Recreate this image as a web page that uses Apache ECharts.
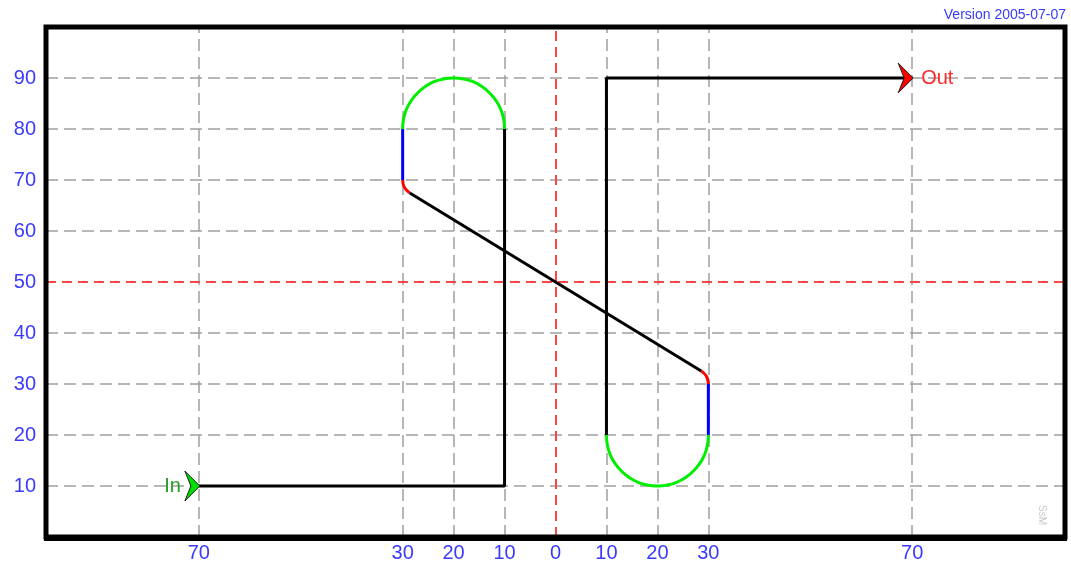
<!DOCTYPE html>
<html>
<head>
<meta charset="utf-8">
<script src="https://cdn.jsdelivr.net/npm/echarts@6/dist/echarts.min.js"></script>
<style>
html,body{margin:0;padding:0;background:#fff;}
#chart{width:1071px;height:564px;}
</style>
</head>
<body>
<div id="chart"></div>
<script>
// ---- data ----
const xTickValues = [-70, -30, -20, -10, 0, 10, 20, 30, 70];
const xTickLabels = ['70', '30', '20', '10', '0', '10', '20', '30', '70'];
const yTickValues = [10, 20, 30, 40, 50, 60, 70, 80, 90];
const yTickLabels = ['10', '20', '30', '40', '50', '60', '70', '80', '90'];
const gridXGray = [-70, -30, -20, -10, 10, 20, 30, 70];
const gridYGray = [10, 20, 30, 40, 60, 70, 80, 90];
const gridXRed = [0];
const gridYRed = [50];
const blackPathIn = [[-70, 10], [-10, 10], [-10, 80]];
const blackDiagonal = [[-28.6, 67.45], [28.6, 32.55]];
const blackPathOut = [[10, 20], [10, 90], [70, 90]];
const blueSegA = [[-30, 80], [-30, 70]];
const blueSegB = [[30, 30], [30, 20]];
// cx, cy, radius, start angle (deg), end angle (deg)
const greenArcs = [[-20, 80, 10, 0, 180], [20, 20, 10, 180, 360]];
const redArcs = [[-27, 70, 3, 180, 238], [27, 30, 3, 0, 58]];
const endPoints = [[-70, 10], [70, 90]];
const endNames = ['In', 'Out'];

// ---- styles ----
const BLUE = '#3a3aff';
const RED = '#ff2a2a';
const FONT = '"Liberation Sans", Arial';
const chart = echarts.init(document.getElementById('chart'), null, {renderer: 'canvas'});

const G = {left: 46, top: 27, right: 6, bottom: 27};
const GW = 1071 - G.left - G.right, GH = 564 - G.top - G.bottom;

function arcRenderer(color) {
  return function (params, api) {
    const c = api.coord([api.value(0), api.value(1)]);
    const s = api.size([api.value(2), api.value(2)]);
    const r = (s[0] + s[1]) / 2;
    const a1 = api.value(3) * Math.PI / 180, a2 = api.value(4) * Math.PI / 180;
    return {
      type: 'arc',
      shape: {cx: c[0], cy: c[1], r: r, startAngle: -a2, endAngle: -a1, clockwise: true},
      style: {stroke: color, fill: null, lineWidth: 3}
    };
  };
}

const arrowColors = ['#00dd00', '#ff0000'];
const textColors = ['#22a022', '#ff2a2a'];

function arrowRenderer(params, api) {
  const i = params.dataIndex;
  const p = api.coord([api.value(0), api.value(1)]);
  const tx = p[0] + 1, ty = p[1];
  const children = [{
    type: 'polygon',
    shape: {points: [[tx, ty], [tx - 15, ty - 15], [tx - 9, ty], [tx - 15, ty + 15]], smooth: 0},
    style: {fill: arrowColors[i], stroke: '#222', lineWidth: 1}
  }];
  if (i === 0) {
    children.push({type: 'text', x: tx - 19, y: ty,
      style: {text: endNames[i], fill: textColors[i], font: '20px ' + FONT, align: 'right', verticalAlign: 'middle'}});
  } else {
    children.push({type: 'text', x: tx + 8, y: ty,
      style: {text: endNames[i], fill: textColors[i], font: '20px ' + FONT, align: 'left', verticalAlign: 'middle'}});
  }
  return {type: 'group', children: children};
}

function lineSeries(data, color, z) {
  return {type: 'line', data: data, symbol: 'none', lineStyle: {color: color, width: 3}, z: z || 5, animation: false, silent: true};
}

function markSeries(xs, ys, color, dash, width) {
  return {
    type: 'line', data: [], z: 1, silent: true, animation: false,
    markLine: {
      silent: true, symbol: ['none', 'none'], animation: false, label: {show: false},
      lineStyle: {color: color, type: dash, width: width},
      emphasis: {disabled: true},
      data: xs.map(v => ({xAxis: v})).concat(ys.map(v => ({yAxis: v})))
    }
  };
}

const option = {
  backgroundColor: '#fff',
  animation: false,
  grid: {left: G.left, top: G.top, right: G.right, bottom: G.bottom, show: false},
  xAxis: {
    type: 'value', min: -100, max: 100, interval: 10,
    axisLine: {show: false}, axisTick: {show: false}, splitLine: {show: false},
    axisLabel: {
      margin: 6, fontSize: 20, fontFamily: FONT,
      formatter: v => { const k = xTickValues.indexOf(v); return k >= 0 ? xTickLabels[k] : ''; },
      color: v => (v === 0 ? RED : BLUE)
    }
  },
  yAxis: {
    type: 'value', min: 0, max: 100, interval: 10,
    axisLine: {show: false}, axisTick: {show: false}, splitLine: {show: false},
    axisLabel: {
      margin: 10, fontSize: 20, fontFamily: FONT,
      formatter: v => { const k = yTickValues.indexOf(v); return k >= 0 ? yTickLabels[k] : ''; },
      color: v => (v === 50 ? RED : BLUE)
    }
  },
  series: [
    markSeries(gridXGray, gridYGray, '#a0a0a0', [12, 6], 1.5),
    markSeries(gridXRed, gridYRed, '#ff4545', [10, 6], 2),
    lineSeries(blackPathIn, '#000'),
    lineSeries(blackDiagonal, '#000'),
    lineSeries(blackPathOut, '#000'),
    lineSeries(blueSegA, '#0000ff'),
    lineSeries(blueSegB, '#0000ff'),
    {type: 'custom', data: greenArcs, renderItem: arcRenderer('#00ee00'), z: 5, silent: true, animation: false, encode: {x: 0, y: 1}},
    {type: 'custom', data: redArcs, renderItem: arcRenderer('#ff0000'), z: 5, silent: true, animation: false, encode: {x: 0, y: 1}},
    {type: 'custom', data: endPoints, renderItem: arrowRenderer, z: 6, silent: true, animation: false, encode: {x: 0, y: 1}}
  ],
  graphic: [
    {type: 'rect', z: 100, silent: true, shape: {x: G.left, y: G.top, width: GW, height: GH},
      style: {fill: null, stroke: '#000', lineWidth: 5}},
    {type: 'line', z: 101, silent: true, shape: {x1: G.left - 2, y1: G.top + GH + 1, x2: G.left + GW + 2, y2: G.top + GH + 1},
      style: {stroke: '#000', lineWidth: 6}},
    {type: 'text', z: 100, silent: true, right: 5, top: 8,
      style: {text: 'Version 2005-07-07', fill: '#3a3aff', font: '14px ' + FONT}},
    {type: 'text', z: 100, silent: true, x: 1047, y: 505, rotation: -Math.PI / 2,
      style: {text: 'SsM', fill: '#c8c8c8', font: '10px ' + FONT}}
  ]
};
chart.setOption(option);
</script>
</body>
</html>
